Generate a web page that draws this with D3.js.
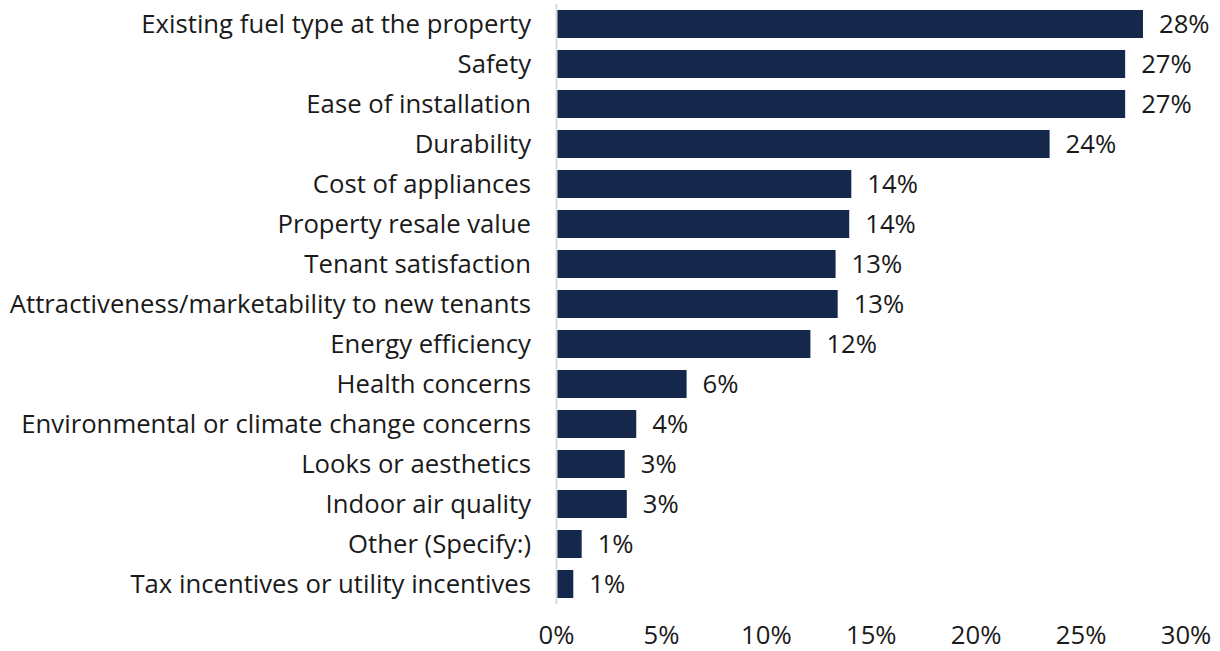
<!DOCTYPE html>
<html lang="en">
<head>
<meta charset="utf-8" />
<style>
body { margin: 0; background: #fff; }
.label { font-family: "Open Sans", "Noto Sans", sans-serif; font-size: 25.7px; fill: #1a1a1a; }
</style>
</head>
<body>
<script src="https://cdn.jsdelivr.net/npm/d3@7"></script>
<script>
var categories = [
  "Existing fuel type at the property",
  "Safety",
  "Ease of installation",
  "Durability",
  "Cost of appliances",
  "Property resale value",
  "Tenant satisfaction",
  "Attractiveness/marketability to new tenants",
  "Energy efficiency",
  "Health concerns",
  "Environmental or climate change concerns",
  "Looks or aesthetics",
  "Indoor air quality",
  "Other (Specify:)",
  "Tax incentives or utility incentives"
];
var values = [27.95, 27.1, 27.1, 23.5, 14.05, 13.95, 13.3, 13.4, 12.1, 6.2, 3.8, 3.25, 3.35, 1.2, 0.8];
var valueLabels = ["28%", "27%", "27%", "24%", "14%", "14%", "13%", "13%", "12%", "6%", "4%", "3%", "3%", "1%", "1%"];
var xTicks = [0, 5, 10, 15, 20, 25, 30];

var width = 1220, height = 651;

var svg = d3.select("body").append("svg")
    .attr("width", width)
    .attr("height", height);

var x = d3.scaleLinear().domain([0, 30]).range([556.5, 1186]);
var y = d3.scaleBand().domain(categories).range([4, 604]).paddingInner(0.3).paddingOuter(0.15);

svg.selectAll(".bar")
    .data(categories)
  .enter().append("rect")
    .attr("class", "bar")
    .attr("x", x(0))
    .attr("y", function (d) { return y(d); })
    .attr("width", function (d, i) { return x(values[i]) - x(0); })
    .attr("height", y.bandwidth())
    .attr("fill", "#15284b");

// axis line
svg.append("line")
    .attr("x1", x(0)).attr("x2", x(0))
    .attr("y1", 4).attr("y2", 604)
    .attr("stroke", "#d9d9d9")
    .attr("stroke-width", 2);

svg.selectAll(".cat")
    .data(categories)
  .enter().append("text")
    .attr("class", "label")
    .attr("x", 531)
    .attr("y", function (d) { return y(d) + y.bandwidth() / 2; })
    .attr("dy", "0.35em")
    .attr("text-anchor", "end")
    .text(function (d) { return d; });

svg.selectAll(".val")
    .data(categories)
  .enter().append("text")
    .attr("class", "label")
    .attr("x", function (d, i) { return x(values[i]) + 16; })
    .attr("y", function (d) { return y(d) + y.bandwidth() / 2; })
    .attr("dy", "0.35em")
    .text(function (d, i) { return valueLabels[i]; });

svg.selectAll(".tick")
    .data(xTicks)
  .enter().append("text")
    .attr("class", "label")
    .attr("x", function (d) { return x(d); })
    .attr("y", 644)
    .attr("text-anchor", "middle")
    .text(function (d) { return d + "%"; });
</script>
</body>
</html>
